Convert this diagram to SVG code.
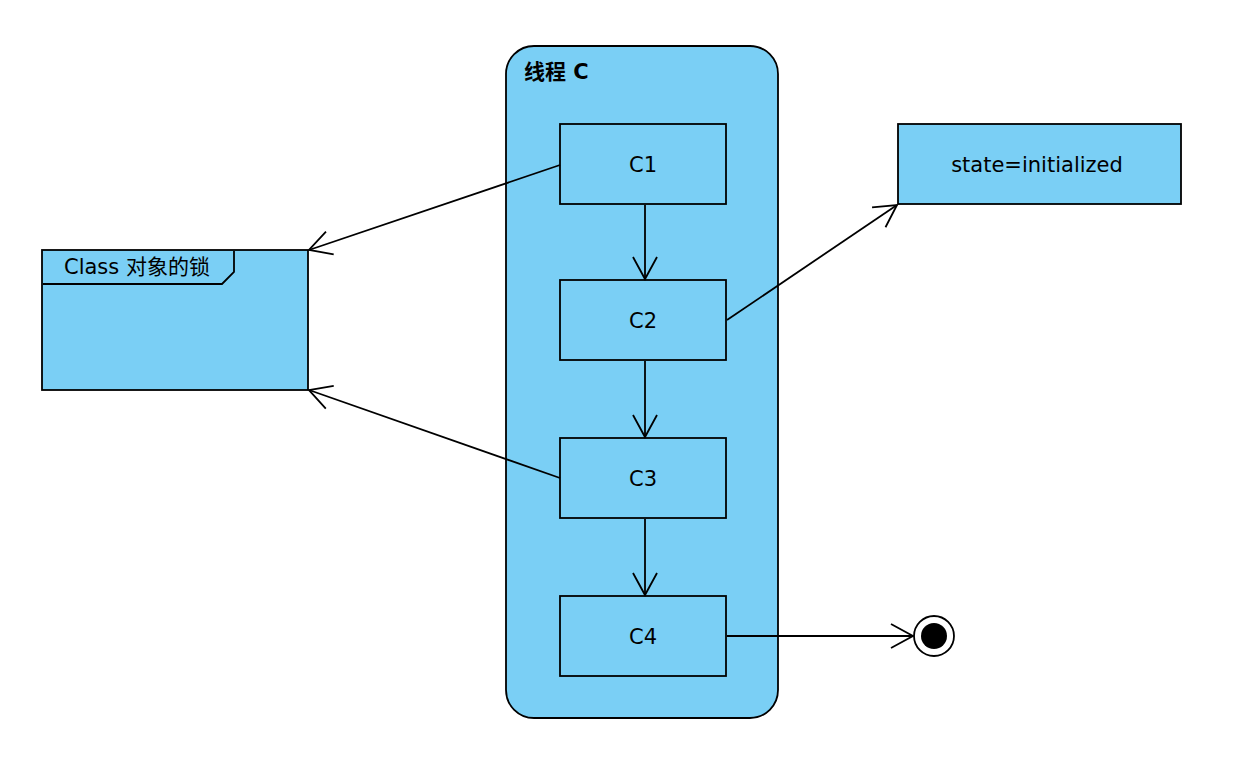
<svg xmlns="http://www.w3.org/2000/svg" width="1236" height="762" viewBox="0 0 1236 762">
<style>
.n{fill:#7ACFF5;stroke:#000;stroke-width:1.8}
.t{font-family:"DejaVu Sans","Noto Sans CJK SC",sans-serif;font-size:21px;fill:#000}
.c{fill:none;stroke:#000;stroke-width:1.8}
</style>
<defs>
<marker id="a" markerUnits="userSpaceOnUse" viewBox="-24 -15 26 30" refX="0" refY="0" markerWidth="26" markerHeight="30" orient="auto">
<path d="M-22,-12 L0,0 L-22,12" fill="none" stroke="#000" stroke-width="1.8"/>
</marker>
</defs>
<rect width="1236" height="762" fill="#fff"/>
<g id="threadC">
<rect class="n" x="506" y="46" width="272" height="672" rx="28" ry="28"/>
<text class="t" x="524" y="79" font-weight="bold" font-size="22">线程 C</text>
</g>
<g id="C1"><rect class="n" x="560" y="124" width="166" height="80"/><text class="t" x="643" y="172" text-anchor="middle">C1</text></g>
<g id="C2"><rect class="n" x="560" y="280" width="166" height="80"/><text class="t" x="643" y="328" text-anchor="middle">C2</text></g>
<g id="C3"><rect class="n" x="560" y="438" width="166" height="80"/><text class="t" x="643" y="486" text-anchor="middle">C3</text></g>
<g id="C4"><rect class="n" x="560" y="596" width="166" height="80"/><text class="t" x="643" y="644" text-anchor="middle">C4</text></g>
<g id="state"><rect class="n" x="898" y="124" width="283" height="80"/><text class="t" x="1037" y="172" text-anchor="middle">state=initialized</text></g>
<g id="classLock">
<rect class="n" x="42" y="250" width="266" height="140"/>
<path class="c" d="M43,284 H222 L234,272 V251"/>
<text class="t" x="64" y="274" font-size="20.5">Class 对象的锁</text>
</g>
<g id="final">
<circle cx="934" cy="636" r="20" fill="#fff" stroke="#000" stroke-width="1.8"/>
<circle cx="934" cy="636" r="13" fill="#000"/>
</g>
<g id="connectors">
<line class="c" x1="560" y1="165" x2="309" y2="250" marker-end="url(#a)"/>
<line class="c" x1="560" y1="478" x2="309" y2="390" marker-end="url(#a)"/>
<line class="c" x1="645" y1="205" x2="645" y2="279" marker-end="url(#a)"/>
<line class="c" x1="645" y1="361" x2="645" y2="437" marker-end="url(#a)"/>
<line class="c" x1="645" y1="519" x2="645" y2="595" marker-end="url(#a)"/>
<line class="c" x1="727" y1="320" x2="897" y2="205" marker-end="url(#a)"/>
<line class="c" x1="727" y1="636" x2="913" y2="636" marker-end="url(#a)"/>
</g>
</svg>
